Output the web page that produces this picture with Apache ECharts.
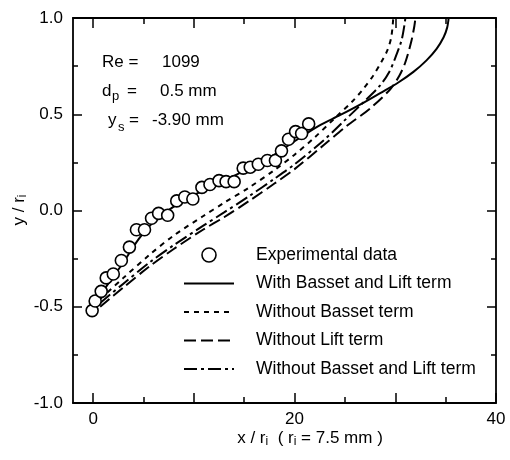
<!DOCTYPE html>
<html>
<head>
<meta charset="utf-8">
<script src="https://cdn.jsdelivr.net/npm/echarts@6/dist/echarts.min.js"></script>
<style>html,body{margin:0;padding:0;background:#fff;}#c{width:510px;height:460px;}</style>
</head>
<body>
<div id="c"></div>
<script>
// ---- data ----
var expX = [-0.1, 0.2, 0.8, 1.3, 2.0, 2.8, 3.6, 4.3, 5.1, 5.8, 6.5, 7.4, 8.3, 9.1, 9.9, 10.8, 11.6, 12.5, 13.2, 14.0, 14.9, 15.6, 16.4, 17.3, 18.1, 18.7, 19.4, 20.1, 20.7, 21.4];
var expY = [-0.52, -0.47, -0.42, -0.35, -0.33, -0.26, -0.19, -0.10, -0.10, -0.04, -0.015, -0.025, 0.05, 0.07, 0.06, 0.12, 0.135, 0.155, 0.15, 0.15, 0.22, 0.225, 0.24, 0.26, 0.26, 0.31, 0.37, 0.41, 0.40, 0.45];

var fullX = [0, 0.5, 1.5, 3, 4.5, 6, 8, 10, 12, 14, 16, 18, 20, 22.4, 24.5, 26.5, 28.5, 30.3, 31.8, 33.1, 34.1, 34.8, 35.15, 35.3];
var fullY = [-0.5, -0.46, -0.38, -0.27, -0.15, -0.06, 0.02, 0.08, 0.13, 0.18, 0.235, 0.29, 0.36, 0.44, 0.495, 0.55, 0.61, 0.665, 0.72, 0.78, 0.84, 0.90, 0.95, 1.0];

var noBassetX = [0.7, 3, 5.6, 8, 10.9, 13, 15.5, 18, 20, 22, 24, 25.8, 26.8, 27.8, 28.6, 29.2, 29.6, 29.8];
var noBassetY = [-0.46, -0.35, -0.23, -0.13, -0.03, 0.04, 0.12, 0.21, 0.29, 0.38, 0.48, 0.57, 0.63, 0.70, 0.77, 0.83, 0.9, 1.0];

var noLiftX = [0.7, 3, 5.6, 8, 10.9, 13, 15.5, 18, 20, 22.9, 25.2, 27.5, 29.5, 30.4, 31.0, 31.6, 31.9, 32.0];
var noLiftY = [-0.5, -0.4, -0.29, -0.2, -0.1, -0.035, 0.05, 0.14, 0.215, 0.34, 0.44, 0.53, 0.63, 0.70, 0.77, 0.88, 0.96, 1.0];

var noBothX = [0.7, 3, 5.6, 8, 10.9, 13, 15.5, 18, 20, 22.9, 24.8, 26.8, 28.5, 29.4, 29.9, 30.6, 30.9, 31.0];
var noBothY = [-0.48, -0.38, -0.27, -0.18, -0.08, -0.01, 0.075, 0.165, 0.24, 0.365, 0.46, 0.56, 0.65, 0.72, 0.78, 0.88, 0.96, 1.0];

var seriesNames = ['Experimental data', 'With Basset and Lift term', 'Without Basset term', 'Without Lift term', 'Without Basset and Lift term'];
var xMajorTicks = [0, 10, 20, 30, 40];
var xMinorTicks = [5, 15, 25, 35];
var xTickLabels = [0, 20, 40];

function pairs(xs, ys) { return xs.map(function (x, i) { return [x, ys[i]]; }); }

var FONT = "'Liberation Sans', Arial, Helvetica, sans-serif";
var chart = echarts.init(document.getElementById('c'), null, { renderer: 'canvas' });

function xAx(pos, ticks, len, showLine, labels) {
  return {
    type: 'value', position: pos, min: -2, max: 40,
    axisLine: { show: showLine, onZero: false, lineStyle: { color: '#000', width: 1.8 } },
    axisTick: { show: true, inside: true, length: len, customValues: ticks, lineStyle: { color: '#000', width: 1.5 } },
    axisLabel: labels ? { show: true, customValues: labels, color: '#000', fontSize: 17, fontFamily: FONT, margin: 8 } : { show: false },
    splitLine: { show: false }
  };
}
function yAx(pos, labels) {
  return {
    type: 'value', position: pos, min: -1, max: 1, interval: 0.5,
    axisLine: { show: true, onZero: false, lineStyle: { color: '#000', width: 1.8 } },
    axisTick: { show: true, inside: true, length: 9, lineStyle: { color: '#000', width: 1.5 } },
    minorTick: { show: true, splitNumber: 2, length: 5, lineStyle: { color: '#000', width: 1.5 } },
    axisLabel: labels ? { show: true, color: '#000', fontSize: 17, fontFamily: FONT, margin: 10, formatter: function (v) { return v.toFixed(1); } } : { show: false },
    splitLine: { show: false }, minorSplitLine: { show: false }
  };
}

function lineSeries(name, xs, ys, dash) {
  return {
    name: name, type: 'line', xAxisIndex: 0, yAxisIndex: 0,
    data: pairs(xs, ys), smooth: 0.3, symbol: 'none', z: 2,
    itemStyle: { color: 'rgba(0,0,0,0)', borderWidth: 0, opacity: 0 },
    lineStyle: { color: '#000', width: 2, type: dash, opacity: 1 }
  };
}

function legendItem(name) {
  return { name: name, itemStyle: { color: 'rgba(0,0,0,0)', borderWidth: 0, opacity: 0 } };
}

var option = {
  animation: false,
  backgroundColor: '#fff',
  grid: { left: 73, right: 14, top: 18, bottom: 57 },
  xAxis: [
    xAx('bottom', xMajorTicks, 10, true, xTickLabels),
    xAx('bottom', xMinorTicks, 6, false, null),
    xAx('top', xMajorTicks, 10, true, null),
    xAx('top', xMinorTicks, 6, false, null)
  ],
  yAxis: [yAx('left', true), yAx('right', false)],
  legend: {
    orient: 'vertical', left: 178, top: 240,
    itemWidth: 50, itemHeight: 14, itemGap: 8.5,
    selectedMode: false,
    textStyle: { color: '#000', fontSize: 17.5, fontFamily: FONT, lineHeight: 20, padding: [0, 0, 0, 17] },
    data: [
      { name: seriesNames[0], itemStyle: { color: '#fff', borderColor: '#000', borderWidth: 1.6, opacity: 1 } },
      legendItem(seriesNames[1]),
      legendItem(seriesNames[2]),
      legendItem(seriesNames[3]),
      legendItem(seriesNames[4])
    ]
  },
  series: [
    {
      name: seriesNames[0], type: 'scatter', xAxisIndex: 0, yAxisIndex: 0,
      data: pairs(expX, expY), symbol: 'circle', symbolSize: 12, z: 5,
      itemStyle: { color: '#fff', borderColor: '#000', borderWidth: 1.6, opacity: 1 }
    },
    lineSeries(seriesNames[1], fullX, fullY, 'solid'),
    lineSeries(seriesNames[2], noBassetX, noBassetY, [5, 5]),
    lineSeries(seriesNames[3], noLiftX, noLiftY, [12, 5]),
    lineSeries(seriesNames[4], noBothX, noBothY, [13, 4, 3, 4])
  ],
  graphic: [
    { type: 'text', x: 102, y: 54, style: { text: 'Re =', font: '17px ' + FONT, fill: '#000' } },
    { type: 'text', x: 162, y: 54, style: { text: '1099', font: '17px ' + FONT, fill: '#000' } },
    { type: 'text', x: 102, y: 83, style: { text: 'd', font: '17px ' + FONT, fill: '#000' } },
    { type: 'text', x: 112, y: 90, style: { text: 'p', font: '13px ' + FONT, fill: '#000' } },
    { type: 'text', x: 127, y: 83, style: { text: '=', font: '17px ' + FONT, fill: '#000' } },
    { type: 'text', x: 160, y: 83, style: { text: '0.5 mm', font: '17px ' + FONT, fill: '#000' } },
    { type: 'text', x: 108, y: 112, style: { text: 'y', font: '17px ' + FONT, fill: '#000' } },
    { type: 'text', x: 118, y: 121, style: { text: 's', font: '13px ' + FONT, fill: '#000' } },
    { type: 'text', x: 129, y: 112, style: { text: '=', font: '17px ' + FONT, fill: '#000' } },
    { type: 'text', x: 152, y: 112, style: { text: '-3.90 mm', font: '17px ' + FONT, fill: '#000' } },
    {
      type: 'text', x: 310, y: 438,
      style: {
        text: '{a|x / r}{b|i}{a|  ( r}{b|i}{a| = 7.5 mm )}',
        align: 'center', verticalAlign: 'middle', fill: '#000',
        rich: {
          a: { fontSize: 17, fontFamily: FONT, lineHeight: 20, fill: '#000' },
          b: { fontSize: 12, fontFamily: FONT, lineHeight: 10, verticalAlign: 'bottom', fill: '#000' }
        }
      }
    },
    {
      type: 'text', x: 19, y: 210, rotation: Math.PI / 2,
      style: {
        text: '{a|y / r}{b|i}',
        align: 'center', verticalAlign: 'middle', fill: '#000',
        rich: {
          a: { fontSize: 17, fontFamily: FONT, lineHeight: 20, fill: '#000' },
          b: { fontSize: 12, fontFamily: FONT, lineHeight: 10, verticalAlign: 'bottom', fill: '#000' }
        }
      }
    }
  ]
};
chart.setOption(option);
</script>
</body>
</html>
